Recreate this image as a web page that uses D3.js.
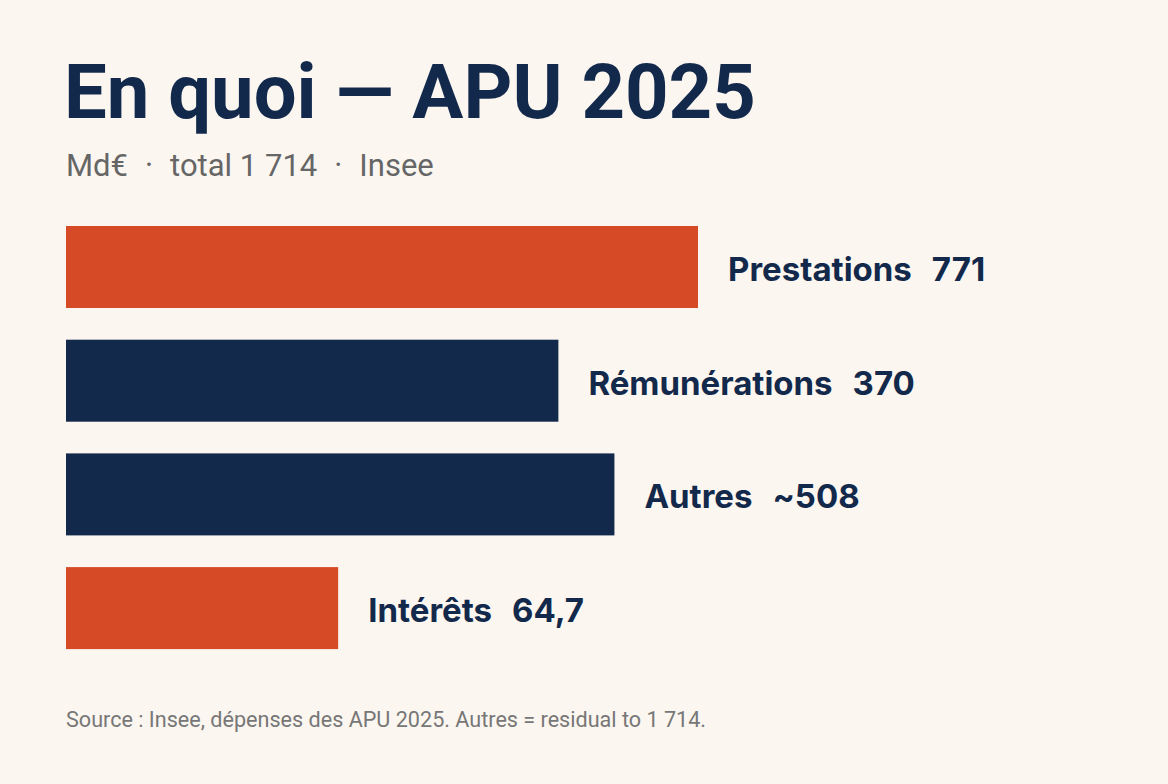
<!DOCTYPE html>
<html>
<head>
<meta charset="utf-8">
<script src="https://cdn.jsdelivr.net/npm/d3@7"></script>
<style>
  html, body { margin: 0; padding: 0; background: #fbf6f0; }
  svg { display: block; font-family: Inter, "Noto Sans", sans-serif; }
</style>
</head>
<body>
<div id="chart"></div>
<script>
// données (Md€)
const categories = ['Prestations', 'Rémunérations', 'Autres', 'Intérêts'];
const values = [771, 370, 508, 64.7];
const valueLabels = ['771', '370', '~508', '64,7'];
const barColors = ['#d64a26', '#13294b', '#13294b', '#d64a26'];
const subtitleParts = ['Md€', '·', 'total 1 714', '·', 'Insee'];

const W = 1168, H = 784;
const margin = {left: 66, top: 226};
const barW = 632;      // largeur de la plus grande barre
const step = 113.7;
const barH = 82;

const svg = d3.select('#chart').append('svg')
    .attr('width', W)
    .attr('height', H);

svg.append('rect').attr('width', W).attr('height', H).attr('fill', '#fbf6f0');

// titre
svg.append('text')
    .attr('x', 64)
    .attr('y', 118)
    .style('font-family', 'Roboto, Inter, sans-serif')
    .style('font-size', '76px')
    .style('font-weight', 700)
    .style('fill', '#13294b')
    .text('En quoi — APU 2025');

// sous-titre
const sub = svg.append('text')
    .attr('x', 66)
    .attr('y', 176)
    .style('font-family', 'Roboto, Inter, sans-serif')
    .style('font-size', '31px')
    .style('fill', '#666');
sub.selectAll('tspan')
    .data(subtitleParts)
    .enter()
    .append('tspan')
    .attr('dx', (d, i) => i === 0 ? 0 : 17)
    .text(d => d);

// échelle (non linéaire, comme l'original)
const x = d3.scalePow()
    .exponent(0.34)
    .domain([0, d3.max(values)])
    .range([0, barW]);

const y = d3.scaleBand()
    .domain(categories)
    .range([margin.top, margin.top + step * (categories.length - 1) + barH])
    .paddingInner((step - barH) / step)
    .paddingOuter(0);

const g = svg.append('g');

g.selectAll('rect.bar')
    .data(categories)
    .enter()
    .append('rect')
    .attr('class', 'bar')
    .attr('x', margin.left)
    .attr('y', d => y(d))
    .attr('width', (d, i) => x(values[i]))
    .attr('height', y.bandwidth())
    .attr('fill', (d, i) => barColors[i]);

// étiquettes
const lab = g.selectAll('text.lab')
    .data(categories)
    .enter()
    .append('text')
    .attr('class', 'lab')
    .attr('x', (d, i) => margin.left + x(values[i]) + 30)
    .attr('y', d => y(d) + y.bandwidth() / 2 + 14)
    .style('font-size', '33px')
    .style('font-weight', 700)
    .style('fill', '#13294b');

lab.append('tspan').text(d => d);
lab.append('tspan').attr('dx', 20).text((d, i) => valueLabels[i]);

// source
svg.append('text')
    .attr('x', 66)
    .attr('y', 727)
    .style('font-family', 'Roboto, Inter, sans-serif')
    .style('font-size', '21.6px')
    .style('fill', '#777')
    .text('Source : Insee, dépenses des APU 2025. Autres = residual to 1 714.');
</script>
</body>
</html>
